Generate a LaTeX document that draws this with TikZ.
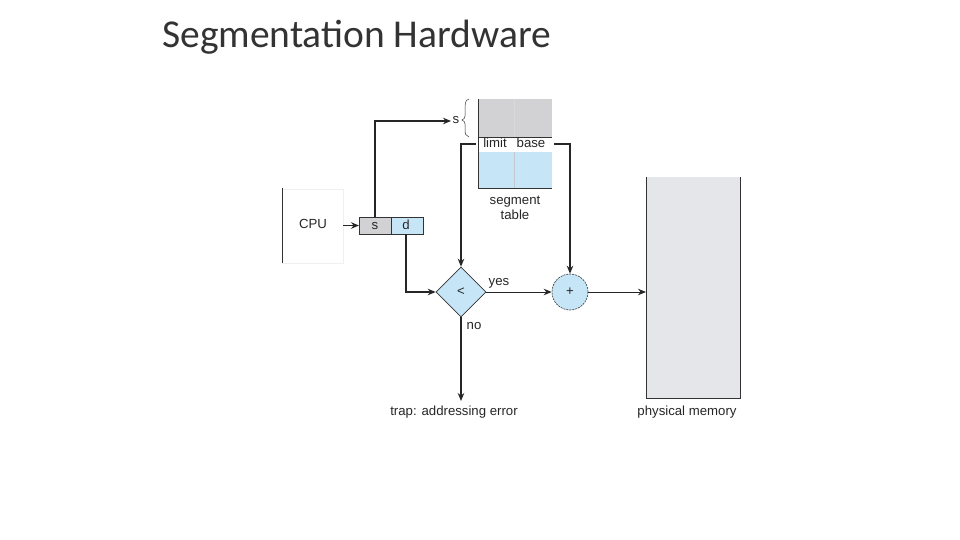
\documentclass[tikz,border=0pt]{standalone}
\usepackage{fontspec}
\setmainfont{Liberation Sans}
\newfontfamily\titlefont{Carlito}
\usetikzlibrary{arrows.meta,shapes.geometric}
\definecolor{lblue}{HTML}{C6E6F8}
\definecolor{lgray}{HTML}{D2D2D4}
\definecolor{mgray}{HTML}{E4E6EA}
\tikzset{
  lbl/.style={font=\fontsize{13.2}{15}\selectfont, text=black!85, inner sep=0pt, text height=9.5pt, text depth=2.8pt},
  thick line/.style={line width=1.6pt, draw=black!85, -{Stealth[length=8pt,width=6.5pt]}},
  thin line/.style={line width=0.9pt, draw=black!85, -{Stealth[length=8pt,width=6.5pt]}},
}
\begin{document}
\begin{tikzpicture}[x=1pt,y=-1pt]
\useasboundingbox (0,0) rectangle (960,540);
% title
\node[font=\titlefont\fontsize{39.5}{44}\selectfont, text=black!80, anchor=west, inner sep=0pt] (title) at (162,37) {Segmentation Hardware};
% CPU box
\draw[black!6] (282,189) rectangle (343,263);
\draw[black!80, line width=0.8pt] (282,188) -- (282,263);
\node[lbl] (cpu) at (313,225.5) {CPU};
% register
\draw[fill=lgray, draw=black!80, line width=0.6pt] (359,217) rectangle (391,234);
\draw[fill=lblue, draw=black!80, line width=0.6pt] (391,217) rectangle (423,234);
\node[lbl] (sreg) at (375,226) {s};
\node[lbl] (dreg) at (406,226) {d};
\coordinate (regL) at (359,225.5);
\draw[thick line] (343,225.5) -- (regL);
% segment table
\fill[lgray] (478,99) rectangle (552,137);
\fill[lblue] (478,152) rectangle (552,188);
\draw[white!85!black, line width=0.5pt] (514,99) -- (514,137);
\draw[white!80!lblue!80!black, line width=0.5pt] (514,152) -- (514,188);
\draw[black!80, line width=0.8pt] (478,99) -- (478,188) -- (552,188);
\draw[black!80, line width=0.8pt] (478,137) -- (552,137);
\node[lbl] (limit) at (495,144.5) {limit};
\node[lbl] (base) at (531,144.5) {base};
\node[lbl, align=center, text height=, text depth=] (segtab) at (515,208) {segment\\table};
% s label and brace
\node[lbl] (slbl) at (456,120) {s};
\draw[black!80, line width=0.5pt] (469,99) .. controls (465,100) and (465,104) .. (465,110)
  -- (465,116) .. controls (465,118) and (464,119) .. (462,120)
  .. controls (464,121) and (465,122) .. (465,124) -- (465,130)
  .. controls (465,134) and (466,136) .. (469,137);
% diamond and adder
\node[diamond, draw=black!80, fill=lblue, line width=0.6pt, minimum width=50pt, minimum height=50pt, inner sep=0pt] (cmp) at (461,292) {};
\node[lbl] at (461,292) {\textless};
\node[circle, draw=black!80, fill=lblue, dashed, dash pattern=on 2pt off 1pt, line width=0.6pt, minimum size=36pt, inner sep=0pt] (add) at (570,292) {};
\node[lbl] at (570,292) {+};
% memory
\fill[mgray] (646,177) rectangle (740,398);
\draw[black!80, line width=0.8pt] (646,177) -- (646,398) -- (740,398) -- (740,177);
\coordinate (memL) at (646,292);
\node[lbl] (mem) at (687,412.5) {physical memory};
% connectors
\draw[thick line] (375,217) -- (375,121) -- (451,121);
\draw[thick line] (476,144) -- (461,144) -- (cmp.north);
\draw[thick line] (554,144) -- (570,144) -- (add.north);
\draw[thick line] (406,234) |- (cmp.west);
\draw[thin line] (cmp.east) -- (add.west);
\draw[thin line] (add.east) -- (memL);
\coordinate (trapT) at (461,401);
\draw[thick line] (cmp.south) -- (trapT);
\node[lbl] (trap) at (454,412.5) {trap: addressing error};
\node[lbl] (yes) at (499,282) {yes};
\node[lbl] (no) at (474,326.5) {no};
\end{tikzpicture}
\end{document}
